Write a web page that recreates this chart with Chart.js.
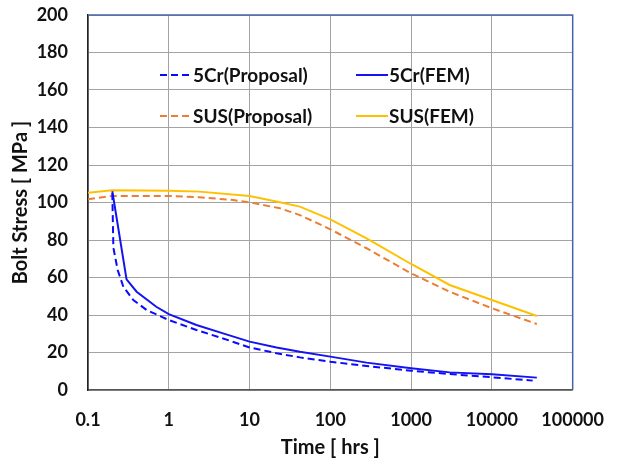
<!DOCTYPE html>
<html>
<head>
<meta charset="utf-8">
<script src="https://cdn.jsdelivr.net/npm/chart.js@4.4.1/dist/chart.umd.min.js"></script>
<style>
  html, body { margin: 0; padding: 0; background: #fff; }
  #c { display: block; }
</style>
</head>
<body>
<canvas id="c" width="623" height="465"></canvas>
<script>
// Bolt stress relaxation over time: proposal model vs. FEM, for 5Cr and SUS bolts
const xTickValues = [0.1, 1, 10, 100, 1000, 10000, 100000];
const xTickLabels = ['0.1', '1', '10', '100', '1000', '10000', '100000'];
const yTickStep = 20;

const time5CrProposal   = [0.2, 0.206, 0.233, 0.274, 0.364, 0.53, 1, 2.2, 4.7, 10, 21.6, 42, 100, 281, 1000, 3000, 10000, 32000];
const stress5CrProposal = [105, 76, 64, 55, 48, 42.7, 37.3, 32, 27.5, 22.7, 19.6, 17.4, 15.1, 12.8, 10.3, 8.5, 6.8, 5.0];

const time5CrFEM   = [0.2, 0.3, 0.4, 0.7, 1, 2.2, 4.7, 10, 21.6, 42, 100, 281, 1000, 3000, 10000, 36000];
const stress5CrFEM = [106, 59, 52.4, 44.4, 40.5, 34.7, 30.2, 25.8, 22.7, 20.4, 17.8, 14.6, 11.6, 9.4, 8.4, 6.6];

const timeSUSProposal   = [0.1, 0.2, 1, 2.4, 6.3, 10, 23.8, 42, 100, 281, 1000, 3000, 10000, 36000];
const stressSUSProposal = [101.7, 103.5, 103.5, 102.8, 101.3, 100.1, 96.9, 93.3, 85.7, 75.6, 62.2, 52.4, 43.6, 35.2];

const timeSUSFEM   = [0.1, 0.2, 1, 2.4, 10, 23.8, 42, 100, 281, 1000, 3000, 10000, 36000];
const stressSUSFEM = [105.2, 106.5, 106.3, 105.8, 103.5, 100.1, 97.8, 91, 80.9, 67.2, 56, 48, 39.5];

const toPoints = (xs, ys) => xs.map((x, i) => ({ x: x, y: ys[i] }));

const FONT = 'Lato, "Open Sans", "Liberation Sans", sans-serif';
const GRID = '#a3a3a3';
const FRAME_BLUE = '#4664a6';

// Legend drawn inside the plot as a 2 x 2 grid of line samples and labels
const insideLegend = {
  id: 'insideLegend',
  afterDatasetsDraw(chart) {
    const ctx = chart.ctx;
    const a = chart.chartArea;
    const colX = [a.left + 72, a.left + 268];
    const rowY = [a.top + 60, a.top + 101];
    const sampleLen = 32;
    chart.data.datasets.forEach((ds, i) => {
      const x = colX[i % 2];
      const y = rowY[Math.floor(i / 2)];
      ctx.save();
      ctx.strokeStyle = ds.borderColor;
      ctx.lineWidth = ds.borderWidth;
      ctx.setLineDash(ds.borderDash || []);
      ctx.beginPath();
      ctx.moveTo(x, y);
      ctx.lineTo(x + sampleLen, y);
      ctx.stroke();
      ctx.setLineDash([]);
      ctx.fillStyle = '#111';
      ctx.font = 'bold 19px ' + FONT;
      ctx.textBaseline = 'middle';
      ctx.textAlign = 'left';
      ctx.fillText(ds.label, x + sampleLen + 1, y + 1);
      ctx.restore();
    });
  }
};

// Blue frame on the top and right edges of the plot area
const plotFrame = {
  id: 'plotFrame',
  afterDraw(chart) {
    const ctx = chart.ctx;
    const a = chart.chartArea;
    ctx.save();
    ctx.strokeStyle = FRAME_BLUE;
    ctx.lineWidth = 1.5;
    ctx.beginPath();
    ctx.moveTo(a.left, a.top);
    ctx.lineTo(a.right, a.top);
    ctx.lineTo(a.right, a.bottom);
    ctx.stroke();
    ctx.restore();
  }
};

new Chart(document.getElementById('c'), {
  type: 'line',
  data: {
    datasets: [
      {
        label: '5Cr(Proposal)',
        data: toPoints(time5CrProposal, stress5CrProposal),
        borderColor: '#0a0aff',
        borderWidth: 2,
        borderDash: [7, 4]
      },
      {
        label: '5Cr(FEM)',
        data: toPoints(time5CrFEM, stress5CrFEM),
        borderColor: '#1414f0',
        borderWidth: 2
      },
      {
        label: 'SUS(Proposal)',
        data: toPoints(timeSUSProposal, stressSUSProposal),
        borderColor: '#ed7d31',
        borderWidth: 2,
        borderDash: [7, 4]
      },
      {
        label: 'SUS(FEM)',
        data: toPoints(timeSUSFEM, stressSUSFEM),
        borderColor: '#ffc000',
        borderWidth: 2
      }
    ]
  },
  options: {
    responsive: false,
    devicePixelRatio: 1,
    animation: false,
    layout: { padding: { top: 15, right: 50, left: 0, bottom: 0 } },
    elements: {
      point: { radius: 0, hoverRadius: 0 },
      line: { tension: 0, fill: false }
    },
    plugins: {
      legend: { display: false },
      tooltip: { enabled: false }
    },
    scales: {
      x: {
        type: 'logarithmic',
        min: xTickValues[0],
        max: xTickValues[xTickValues.length - 1],
        afterBuildTicks: (s) => { s.ticks = xTickValues.map(v => ({ value: v })); },
        afterFit: (s) => { s.height = 75; },
        ticks: {
          autoSkip: false,
          maxRotation: 0,
          padding: 19,
          color: '#111',
          font: { family: FONT, size: 18, weight: 'bold' },
          callback: (v, i) => xTickLabels[i]
        },
        grid: { color: GRID, lineWidth: 1, drawTicks: false },
        border: { color: '#555', width: 1.5 },
        title: {
          display: true,
          text: 'Time [ hrs ]',
          color: '#111',
          font: { family: FONT, size: 20, weight: 'bold' },
          padding: { top: 0, bottom: 5 }
        }
      },
      y: {
        min: 0,
        max: 200,
        afterFit: (s) => { s.width = 88; s.paddingTop = 0; s.paddingBottom = 0; },
        ticks: {
          stepSize: yTickStep,
          padding: 20,
          color: '#111',
          font: { family: FONT, size: 18, weight: 'bold' }
        },
        grid: { color: GRID, lineWidth: 1, drawTicks: false },
        border: { color: '#222', width: 1.5 },
        title: {
          display: true,
          text: 'Bolt Stress [ MPa ]',
          color: '#111',
          font: { family: FONT, size: 20, weight: 'bold' },
          padding: { top: 9, bottom: 0 }
        }
      }
    }
  },
  plugins: [insideLegend, plotFrame]
});
</script>
</body>
</html>
